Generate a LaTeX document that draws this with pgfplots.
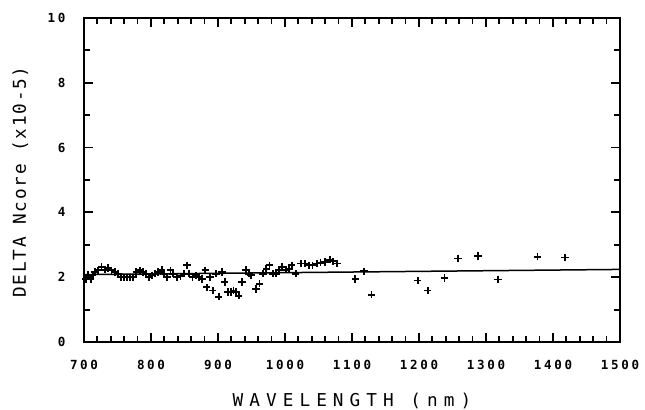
\documentclass[border=0pt]{standalone}
\usepackage{fontspec}
\usepackage{pgfplots}
\pgfplotsset{compat=1.18}
\newfontfamily\tickfont[LetterSpace=21]{DejaVu Sans Mono}
\newfontfamily\ylabfont[LetterSpace=10]{DejaVu Sans Mono}
\newfontfamily\xlabfont[LetterSpace=34]{DejaVu Sans Mono}

\begin{document}
\begin{tikzpicture}
  \useasboundingbox (-84bp,-68bp) rectangle (561bp,342bp);
  \begin{axis}[
      at={(0,0)}, anchor=south west,
      scale only axis, width=536bp, height=324bp,
      xmin=700, xmax=1500, ymin=0, ymax=10,
      xtick={700,800,...,1500}, ytick={0,2,...,10},
      minor xtick={720,740,...,1480}, minor ytick={1,3,...,9},
      tick align=inside, xtick pos=both, ytick pos=both,
      major tick length=9bp, minor tick length=6bp,
      tick style={draw=black, line width=1.8bp},
      axis line style={line width=1.5bp},
      /pgf/number format/1000 sep={},
      tick label style={font=\tickfont\bfseries\fontsize{12.6}{14}\selectfont},
      xticklabel style={anchor=base, yshift=-27bp},
      yticklabel style={anchor=east, xshift=-15bp},
      xticklabel={\pgfmathprintnumber[assume math mode=true]{\tick}},
      yticklabel={\pgfmathprintnumber[assume math mode=true]{\tick}},
      xlabel={WAVELENGTH (nm)},
      ylabel={DELTA Ncore (x10-5)},
      xlabel style={font=\xlabfont\fontsize{17.8}{20}\selectfont,
        at={(axis description cs:0.5,-0.182)}, anchor=center},
      ylabel style={font=\ylabfont\fontsize{17.8}{20}\selectfont,
        at={(axis description cs:-0.119,0.494)}, anchor=center},
    ]
    % fitted line
    \addplot[black, line width=1.5bp] coordinates {(700,2.08) (1500,2.24)};

    % measured points
    \addplot[only marks, mark=+, mark size=3.7bp,
             mark options={solid, line width=1.8bp}]
      coordinates {
        (703,1.95) (706,2.08) (710,1.95) (713,2.06) (716,2.16) (721,2.21)
        (726,2.32) (731,2.23) (736,2.28) (741,2.21) (746,2.16) (751,2.11)
        (755,2.00) (760,2.00) (764,2.00) (769,2.00) (773,2.00) (778,2.16)
        (783,2.21) (788,2.16) (793,2.11) (797,2.00) (801,2.06) (806,2.11)
        (811,2.16) (816,2.23) (819,2.11) (824,2.00) (829,2.21) (833,2.11)
        (839,2.00) (844,2.03) (849,2.11) (854,2.37) (857,2.11) (862,2.00)
        (867,2.06) (872,2.00) (876,1.95) (881,2.21) (883,1.69) (888,2.00)
        (892,1.59) (897,2.11) (901,1.40) (906,2.16) (910,1.85) (915,1.54)
        (920,1.54) (923,1.59) (927,1.54) (931,1.43) (936,1.85) (942,2.23)
        (946,2.11) (949,2.06) (957,1.64) (962,1.80) (967,2.11) (972,2.26)
        (977,2.37) (982,2.11) (987,2.11) (991,2.21) (995,2.32) (1001,2.23)
        (1006,2.26) (1010,2.37) (1016,2.11) (1024,2.42) (1030,2.42) (1036,2.37)
        (1041,2.37) (1048,2.42) (1053,2.45) (1060,2.47) (1067,2.54) (1072,2.49)
        (1078,2.42)
        (1105,1.95) (1118,2.18) (1129,1.46) (1198,1.90) (1213,1.59) (1238,1.98)
        (1258,2.58) (1288,2.65) (1318,1.93) (1377,2.63) (1418,2.61)
      };
  \end{axis}
\end{tikzpicture}
\end{document}
